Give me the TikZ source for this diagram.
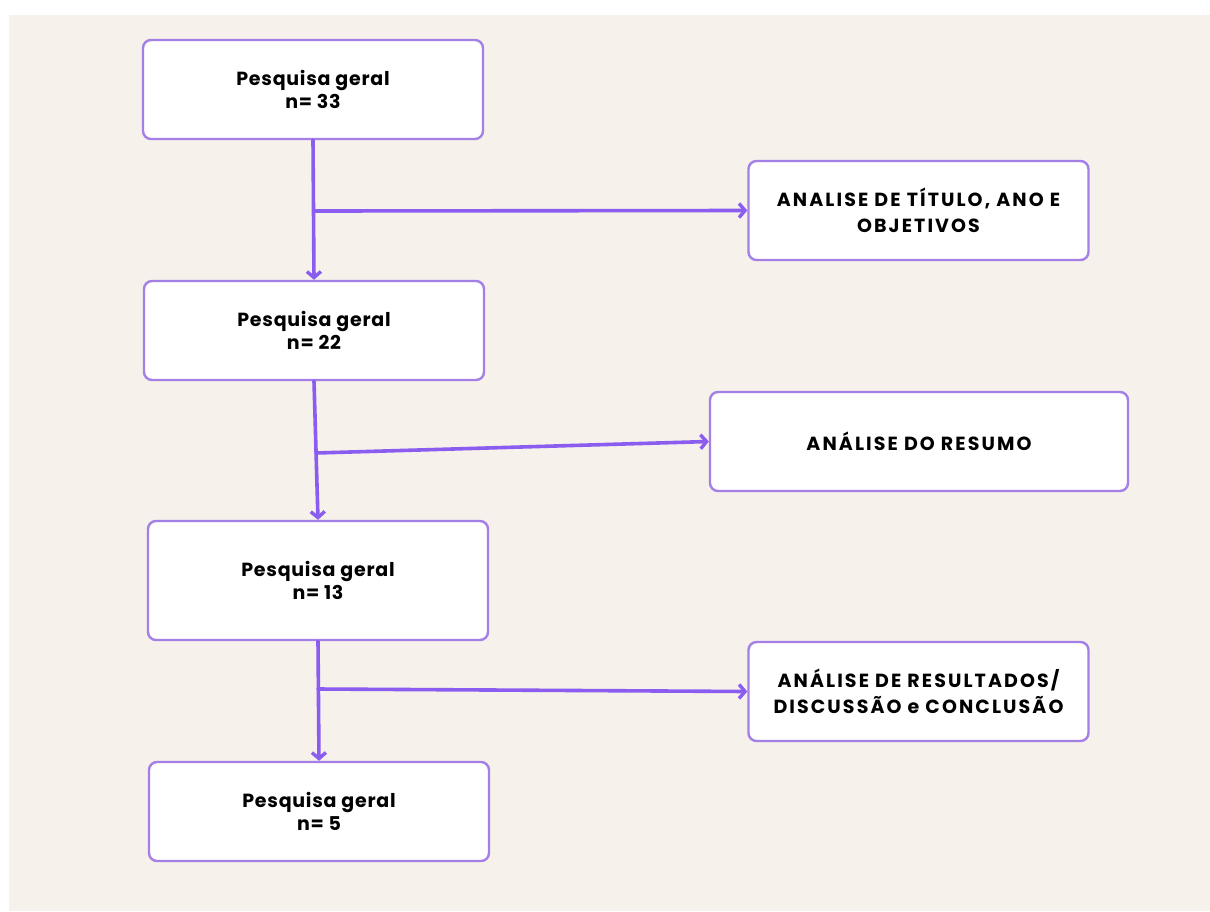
\documentclass[tikz,border=0pt]{standalone}
\usepackage{fontspec}
\setmainfont{Poppins}[LetterSpace=4]
\newfontfamily\capsfont{Poppins}[LetterSpace=11]
\usetikzlibrary{arrows.meta}
\definecolor{bgbeige}{HTML}{F6F1EA}
\definecolor{boxline}{HTML}{A47FE6}
\definecolor{arrowline}{HTML}{8B5CF0}
\tikzset{
  stagebox/.style={draw=boxline, line width=2.4pt, fill=white, rounded corners=8pt,
    minimum width=340pt, minimum height=99pt, align=center, inner sep=0pt,
    font=\fontsize{19}{23.5}\selectfont\bfseries},
  critbox/.style={stagebox, font=\capsfont\fontsize{19}{26}\selectfont\bfseries},
  flow/.style={draw=arrowline, line width=3.6pt, -{Straight Barb[length=6pt,width=14pt,line width=3.4pt]}, line cap=round, line join=round}
}
\begin{document}
\begin{tikzpicture}[x=1pt,y=-1pt]
\useasboundingbox (0,0) rectangle (1210,911);
\fill[white] (0,0) rectangle (1210,911);
\fill[bgbeige] (9,15) rectangle (1210,911);

\node[stagebox] (b1) at (313,89.5) {Pesquisa geral\\n= 33};
\node[critbox]  (b2) at (918.5,210.5) {ANALISE DE TÍTULO, ANO E\\OBJETIVOS};
\node[stagebox] (b3) at (314,330.5) {Pesquisa geral\\n= 22};
\node[critbox, minimum width=418pt] (b4) at (919,441.5) {ANÁLISE DO RESUMO};
\node[stagebox, minimum height=119pt] (b5) at (318,580.5) {Pesquisa geral\\n= 13};
\node[critbox]  (b6) at (918.5,691.5) {ANÁLISE DE RESULTADOS/\\DISCUSSÃO e CONCLUSÃO};
\node[stagebox] (b7) at (319,811.5) {Pesquisa geral\\n= 5};

\coordinate (j1) at (314,211);
\coordinate (j2) at (316,453);
\coordinate (j3) at (318,689);

\draw[flow] (b1.south) -- (b3.north);
\draw[flow] (j1) -- (b2.west);
\draw[flow] (b3.south) -- (b5.north);
\draw[flow] (j2) -- (b4.west);
\draw[flow] (b5.south) -- (b7.north);
\draw[flow] (j3) -- (b6.west);
\end{tikzpicture}
\end{document}
